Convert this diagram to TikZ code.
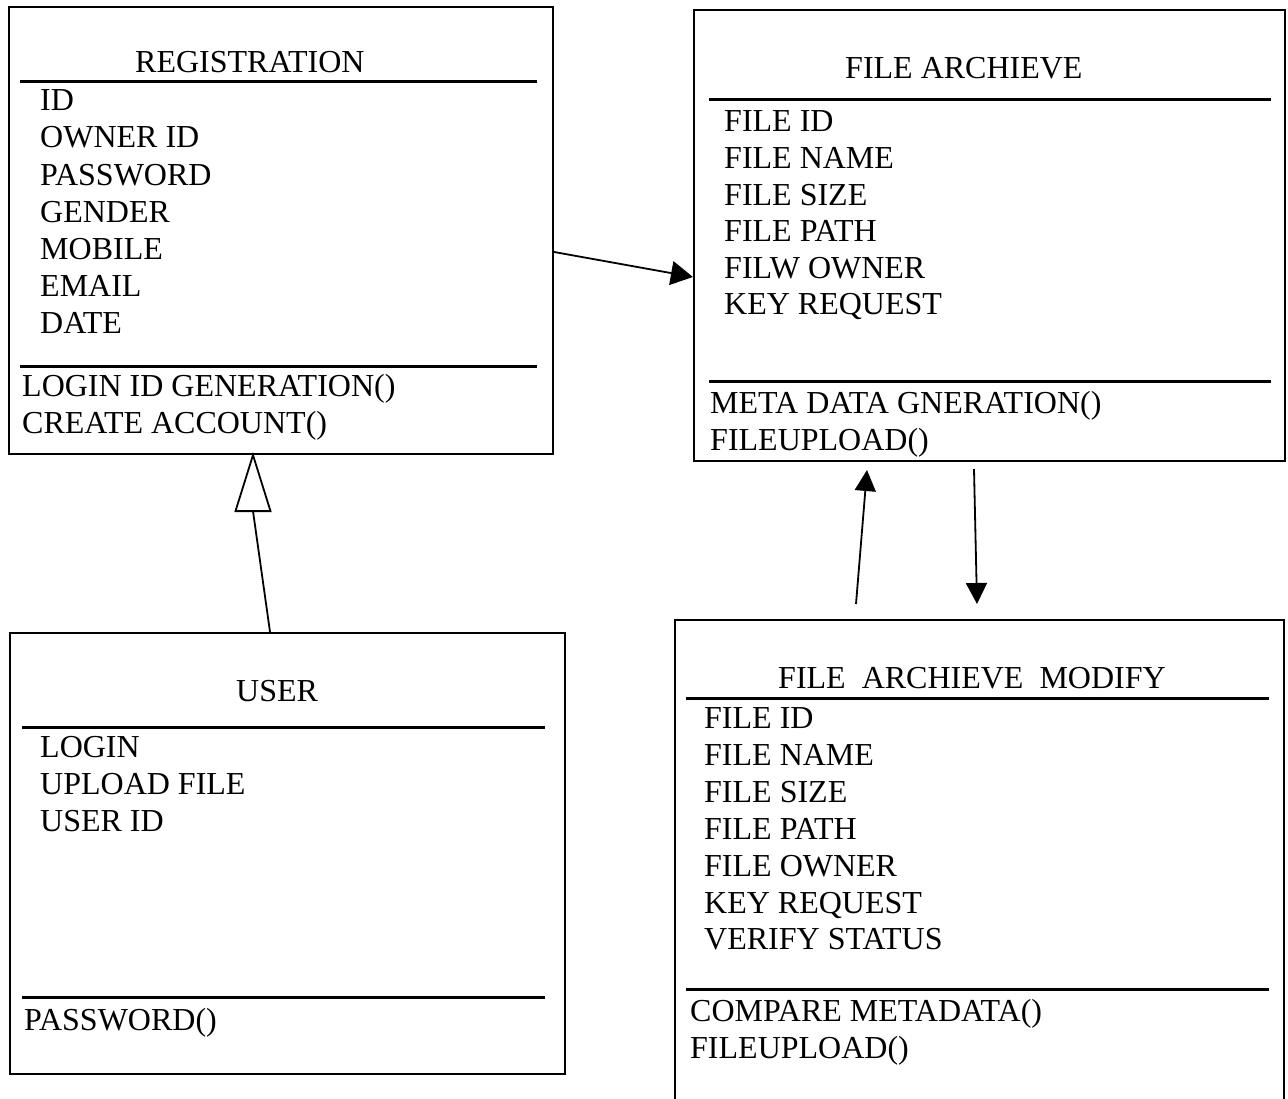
\documentclass[tikz,border=0pt]{standalone}
\usepackage{fontspec}
\setmainfont{Liberation Serif}
\usetikzlibrary{arrows.meta}

\tikzset{
  box/.style={draw, rectangle, line width=2.2pt, inner sep=0pt},
  txt/.style={anchor=base west, inner sep=0pt, font=\fontsize{32}{37}\selectfont},
  sep/.style={line width=3pt},
  link/.style={line width=1.8pt}
}

\begin{document}
\begin{tikzpicture}[x=1pt,y=-1pt]
\useasboundingbox (0,0) rectangle (1288,1099);
% boxes
\node[box, minimum width=544pt, minimum height=447pt] (reg) at (281,230.5) {};
\node[box, minimum width=591pt, minimum height=451pt] (fa) at (989.5,235.5) {};
\node[box, minimum width=555pt, minimum height=441pt] (usr) at (287.5,853.5) {};
\node[box, minimum width=609pt, minimum height=500pt] (fam) at (979.5,870) {};
% registration
\node[txt] (rt) at (135,73) {REGISTRATION};
\draw[sep] (20,82) -- (537,82);
\node[txt] (r1) at (40,111) {ID};
\node[txt] (r2) at (40,148) {OWNER ID};
\node[txt] (r3) at (40,186) {PASSWORD};
\node[txt] (r4) at (40,223) {GENDER};
\node[txt] (r5) at (40,260) {MOBILE};
\node[txt] (r6) at (40,297) {EMAIL};
\node[txt] (r7) at (40,334) {DATE};
\draw[sep] (20,366) -- (537,366);
\node[txt] (rm1) at (22,396) {LOGIN ID GENERATION()};
\node[txt] (rm2) at (22,433) {CREATE ACCOUNT()};
% file archieve
\node[txt] (ft) at (845,79) {FILE ARCHIEVE};
\draw[sep] (709,100) -- (1271,100);
\node[txt] (f1) at (724,132) {FILE ID};
\node[txt] (f2) at (724,169) {FILE NAME};
\node[txt] (f3) at (724,206) {FILE SIZE};
\node[txt] (f4) at (724,242) {FILE PATH};
\node[txt] (f5) at (724,279) {FILW OWNER};
\node[txt] (f6) at (724,315) {KEY REQUEST};
\draw[sep] (709,381) -- (1271,381);
\node[txt] (fm1) at (710,413) {META DATA GNERATION()};
\node[txt] (fm2) at (710,450) {FILEUPLOAD()};
% user
\node[txt] (ut) at (236,701) {USER};
\draw[sep] (22,727) -- (545,727);
\node[txt] (u1) at (40,757) {LOGIN};
\node[txt] (u2) at (40,794) {UPLOAD FILE};
\node[txt] (u3) at (40,831) {USER ID};
\draw[sep] (22,997) -- (545,997);
\node[txt] (um1) at (24,1030) {PASSWORD()};
% file archieve modify
\node[txt] (mt) at (778,688) {FILE\ \ ARCHIEVE\ \ MODIFY};
\draw[sep] (686,698) -- (1269,698);
\node[txt] (m1) at (704,728) {FILE ID};
\node[txt] (m2) at (704,765) {FILE NAME};
\node[txt] (m3) at (704,802) {FILE SIZE};
\node[txt] (m4) at (704,839) {FILE PATH};
\node[txt] (m5) at (704,876) {FILE OWNER};
\node[txt] (m6) at (704,913) {KEY REQUEST};
\node[txt] (m7) at (704,949) {VERIFY STATUS};
\draw[sep] (686,989) -- (1269,989);
\node[txt] (mm1) at (690,1021) {COMPARE METADATA()};
\node[txt] (mm2) at (690,1058) {FILEUPLOAD()};
% connectors
\coordinate (gtip) at ([xshift=-28pt]reg.south);
\coordinate (gbase) at ([xshift=-28pt,yshift=-56pt]reg.south);
\coordinate (up1) at (856,604);
\coordinate (up2) at (867,470);
\coordinate (dn1) at (974,469);
\coordinate (dn2) at (977,604);
\path[draw,link,-{Triangle[length=22pt,width=24pt]}] ([yshift=-21.5pt]reg.east) -- ([yshift=-41.5pt]fa.west);
\path[draw,link] ([xshift=-17.5pt]usr.north) -- (gbase);
\draw[link, fill=white] (gtip) -- ([xshift=-17.5pt]gbase) -- ([xshift=17.5pt]gbase) -- cycle;
\path[draw,link,-{Triangle[length=21pt,width=21pt]}] (up1) -- (up2);
\path[draw,link,-{Triangle[length=21pt,width=21pt]}] (dn1) -- (dn2);
\end{tikzpicture}
\end{document}
